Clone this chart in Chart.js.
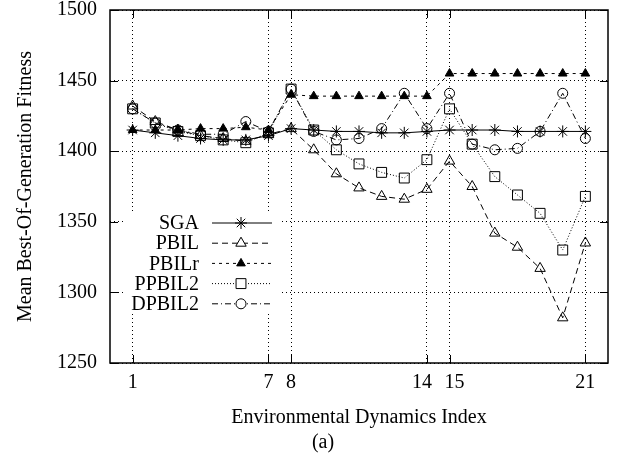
<!DOCTYPE html>
<html>
<head>
<meta charset="utf-8">
<script src="https://cdn.jsdelivr.net/npm/chart.js@4.4.1/dist/chart.umd.min.js"></script>
<style>
    html, body { margin: 0; padding: 0; background: #fff; }
    #wrap { width: 628px; height: 468px; }
</style>
</head>
<body>
<div id="wrap"><canvas id="fitnessChart" width="628" height="468"></canvas></div>
<script>
// values
const envIndex = [1, 2, 3, 4, 5, 6, 7, 8, 9, 10, 11, 12, 13, 14, 15, 16, 17, 18, 19, 20, 21];
const xTicks = [1, 7, 8, 14, 15, 21];
const yTicks = [1250, 1300, 1350, 1400, 1450, 1500];
const seriesNames = ['SGA', 'PBIL', 'PBILr', 'PPBIL2', 'DPBIL2'];

const sga    = [1415, 1413, 1411, 1409, 1408, 1408, 1411, 1416, 1415, 1414, 1414, 1413, 1413, 1414, 1415, 1415, 1415, 1414, 1414, 1414, 1414];
const pbil   = [1432, 1421, 1415, 1411, 1409, 1407, 1412, 1416, 1401, 1384, 1374, 1368, 1366, 1373, 1393, 1375, 1342, 1332, 1317, 1282, 1335];
const pbilr  = [1415, 1415, 1415, 1416, 1416, 1417, 1415, 1440, 1439, 1439, 1439, 1439, 1439, 1439, 1455, 1455, 1455, 1455, 1455, 1455, 1455];
const ppbil2 = [1430, 1420, 1414, 1411, 1408, 1406, 1413, 1444, 1415, 1401, 1391, 1385, 1381, 1394, 1430, 1405, 1382, 1369, 1356, 1330, 1368];
const dpbil2 = [1430, 1420, 1415, 1412, 1412, 1421, 1414, 1444, 1414, 1408, 1409, 1416, 1441, 1416, 1441, 1405, 1401, 1402, 1414, 1441, 1409];

const FONT = { family: '"Liberation Serif", "Times New Roman", serif', size: 20 };

const styles = [
    { pointStyle: 'star',     radius: 6, dash: [],           fill: false },
    { pointStyle: 'triangle', radius: 6, dash: [6, 4],       fill: false },
    { pointStyle: 'triangle', radius: 5, dash: [3, 4],       fill: true },
    { pointStyle: 'rect',     radius: 7, dash: [1, 2],       fill: false },
    { pointStyle: 'circle',   radius: 5, dash: [6, 3, 1, 3], fill: false }
];

function toPoints(values) {
    return envIndex.map((x, i) => ({ x: x, y: values[i] }));
}

const seriesValues = [sga, pbil, pbilr, ppbil2, dpbil2];

const datasets = seriesNames.map((name, k) => ({
    label: name,
    data: toPoints(seriesValues[k]),
    borderColor: '#000',
    borderWidth: 1,
    borderDash: styles[k].dash,
    pointStyle: styles[k].pointStyle,
    pointRadius: styles[k].radius,
    pointBorderWidth: 1,
    pointBorderColor: '#000',
    pointBackgroundColor: styles[k].fill ? '#000' : 'rgba(0,0,0,0)',
    fill: false,
    tension: 0
}));

// gnuplot nudges the close pairs 7/8 and 14/15 apart
function xLabel(value) {
    if (value === 14) return '14\u2002';
    if (value === 15) return '\u200215';
    return String(value);
}

// box, mirrored inward ticks, key and caption, gnuplot style
const framePlugin = {
    id: 'framePlugin',
    afterDatasetsDraw(chart) {
        const ctx = chart.ctx;
        const area = chart.chartArea;
        const xs = chart.scales.x;
        const ys = chart.scales.y;
        const tick = 8;

        ctx.save();
        ctx.strokeStyle = '#000';
        ctx.setLineDash([]);
        ctx.lineWidth = 1;
        ctx.beginPath();
        yTicks.forEach(v => {
            const py = Math.round(ys.getPixelForValue(v)) + 0.5;
            ctx.moveTo(area.left, py); ctx.lineTo(area.left + tick, py);
            ctx.moveTo(area.right, py); ctx.lineTo(area.right - tick, py);
        });
        xTicks.forEach(v => {
            const px = Math.round(xs.getPixelForValue(v)) + 0.5;
            ctx.moveTo(px, area.bottom); ctx.lineTo(px, area.bottom - tick);
            ctx.moveTo(px, area.top); ctx.lineTo(px, area.top + tick);
        });
        ctx.stroke();

        ctx.lineWidth = 1.5;
        ctx.strokeRect(area.left, area.top, area.right - area.left, area.bottom - area.top);

        // key
        const keyLeft = area.left + 15;
        const keyTop = area.top + 202;
        ctx.fillStyle = '#fff';
        ctx.fillRect(keyLeft, keyTop, 157, 101);

        const textRight = area.left + 89;
        const lineStart = area.left + 102;
        const lineEnd = area.left + 162;
        const markX = area.left + 131;
        ctx.font = FONT.size + 'px ' + FONT.family;
        ctx.textAlign = 'right';
        ctx.textBaseline = 'middle';
        seriesNames.forEach((name, k) => {
            const rowY = keyTop + 11 + k * 20.2;
            ctx.fillStyle = '#000';
            ctx.fillText(name, textRight, rowY + 1);
            ctx.lineWidth = 1;
            ctx.setLineDash(styles[k].dash);
            ctx.beginPath();
            ctx.moveTo(lineStart, rowY);
            ctx.lineTo(lineEnd, rowY);
            ctx.stroke();
            ctx.setLineDash([]);
            ctx.fillStyle = styles[k].fill ? '#000' : '#fff';
            ctx.strokeStyle = '#000';
            Chart.helpers.drawPoint(ctx, {
                pointStyle: styles[k].pointStyle,
                radius: styles[k].radius,
                rotation: 0,
                borderWidth: 1
            }, markX, rowY);
        });

        // caption
        ctx.fillStyle = '#000';
        ctx.textAlign = 'center';
        ctx.fillText('(a)', (area.left + area.right) / 2 - 36, 443);
        ctx.restore();
    }
};

new Chart(document.getElementById('fitnessChart'), {
    type: 'line',
    data: { datasets: datasets },
    options: {
        responsive: false,
        animation: false,
        devicePixelRatio: 1,
        layout: { padding: { top: 10, right: 20, left: 0, bottom: 0 } },
        plugins: {
            legend: { display: false },
            tooltip: { enabled: false }
        },
        scales: {
            x: {
                type: 'linear',
                min: 0,
                max: 22,
                afterBuildTicks: scale => { scale.ticks = xTicks.map(v => ({ value: v })); },
                afterFit: scale => {
                    scale.height = 105;
                    scale.paddingLeft = 0;
                    scale.paddingRight = 0;
                },
                ticks: { color: '#000', font: FONT, padding: 8, maxRotation: 0, autoSkip: false, callback: xLabel },
                grid: { color: '#000', lineWidth: 1, drawTicks: false },
                border: { display: false, dash: [1, 3] },
                title: {
                    display: true,
                    text: 'Environmental Dynamics Index',
                    color: '#000',
                    font: FONT,
                    padding: { top: 0, bottom: 38 }
                }
            },
            y: {
                min: 1250,
                max: 1500,
                afterBuildTicks: scale => { scale.ticks = yTicks.map(v => ({ value: v })); },
                afterFit: scale => {
                    scale.width = 110;
                    scale.paddingTop = 0;
                    scale.paddingBottom = 0;
                },
                ticks: { color: '#000', font: FONT, padding: 13, callback: v => String(v) },
                grid: { color: '#000', lineWidth: 1, drawTicks: false },
                border: { display: false, dash: [1, 3] },
                title: {
                    display: true,
                    text: 'Mean Best-Of-Generation Fitness',
                    color: '#000',
                    font: FONT,
                    padding: { top: 14, bottom: 0 }
                }
            }
        }
    },
    plugins: [framePlugin]
});
</script>
</body>
</html>
